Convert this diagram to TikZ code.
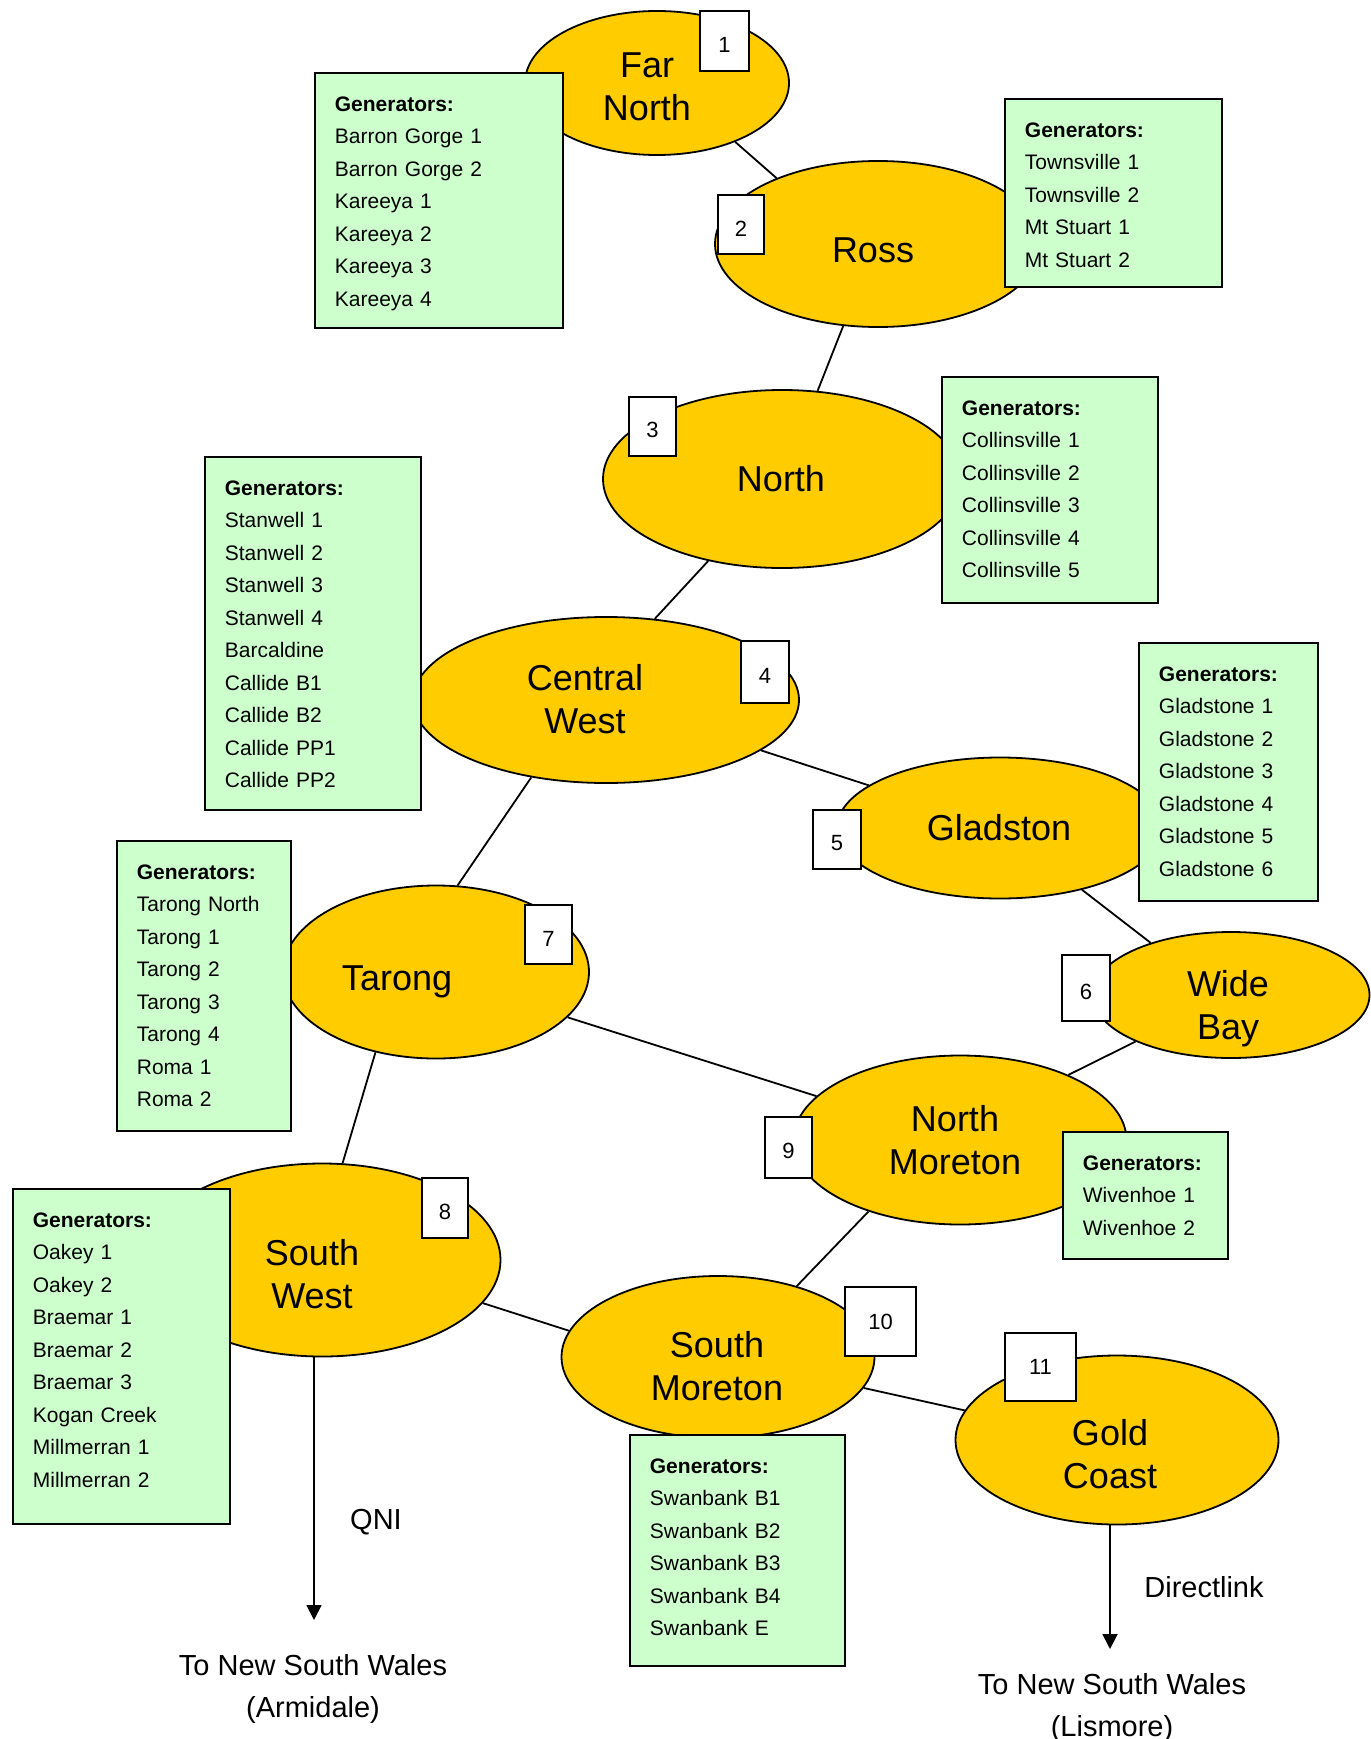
\documentclass[tikz,border=0pt]{standalone}
\usepackage{fontspec}
\setmainfont{Liberation Sans}
\usetikzlibrary{arrows.meta,shapes.geometric}
\definecolor{gold}{HTML}{FFCC00}
\definecolor{mint}{HTML}{CCFFCC}

\begin{document}
\begin{tikzpicture}[x=1pt,y=-1pt,
        region/.style={ellipse,draw,fill=gold,line width=1.8pt,inner sep=0pt},
        regname/.style={align=center,font=\fontsize{36}{43}\selectfont},
        genbox/.style 2 args={draw,fill=mint,line width=1.8pt,anchor=north west,align=left,
            inner xsep=20pt,inner ysep=0pt,font=\fontsize{21}{32.5}\selectfont,
            text width=#1,text height=38.5pt,text depth=#2},
        numbox/.style={draw,fill=white,line width=1.8pt,inner sep=0pt,font=\fontsize{22}{26}\selectfont},
        lownum/.style={text height=23pt},
        link/.style={line width=1.8pt},
        tip/.style={-{Triangle[length=15pt,width=15pt]}},
        note/.style={align=center,font=\fontsize{29}{42}\selectfont}]
        \useasboundingbox (0,0) rectangle (1370,1739);

        % regions
        \node[region,minimum width=264pt,minimum height=144pt] (farnorth) at (657,83) {};
        \node[region,minimum width=326pt,minimum height=166pt] (ross) at (878,244) {};
        \node[region,minimum width=358pt,minimum height=178pt] (north) at (782,479) {};
        \node[region,minimum width=386pt,minimum height=166pt] (centralwest) at (606,700) {};
        \node[region,minimum width=326pt,minimum height=141pt] (gladston) at (1000,828) {};
        \node[region,minimum width=277pt,minimum height=126pt] (widebay) at (1231,995) {};
        \node[region,minimum width=306pt,minimum height=173pt] (tarong) at (436,972) {};
        \node[region,minimum width=333pt,minimum height=169pt] (northmoreton) at (960,1140) {};
        \node[region,minimum width=357pt,minimum height=193pt] (southwest) at (322,1260) {};
        \node[region,minimum width=313pt,minimum height=162pt] (southmoreton) at (718,1357) {};
        \node[region,minimum width=323pt,minimum height=169pt] (goldcoast) at (1117,1440) {};

        \node[regname] (farnorth-l) at (647,87) {Far\\North};
        \node[regname] (ross-l) at (873,250) {Ross};
        \node[regname] (north-l) at (781,479) {North};
        \node[regname] (centralwest-l) at (585,699) {Central\\West};
        \node[regname] (gladston-l) at (999,828) {Gladston};
        \node[regname] (widebay-l) at (1228,1008.5) {Wide\\Bay};
        \node[regname] (tarong-l) at (397,981.5) {Tarong};
        \node[regname] (northmoreton-l) at (955,1140) {North\\Moreton};
        \node[regname] (southwest-l) at (312,1274) {South\\West};
        \node[regname] (southmoreton-l) at (717,1366) {South\\Moreton};
        \node[regname] (goldcoast-l) at (1110,1454) {Gold\\Coast};

        % lines
        \draw[link] (farnorth.-37) -- (ross.147);
        \draw[link] (ross.-113) -- (north.68);
        \draw[link] (north.-132) -- (centralwest.59);
        \draw[link] (centralwest.-18) -- (gladston.162);
        \draw[link] (gladston.-37) -- (widebay.147);
        \draw[link] (widebay.-154) -- (northmoreton.31);
        \draw[link] (centralwest.-134) -- (tarong.76);
        \draw[link] (tarong.-19) -- (northmoreton.163);
        \draw[link] (tarong.-127) -- (southwest.78);
        \draw[link] (northmoreton.-142) -- (southmoreton.42);
        \draw[link] (southwest.-15) -- (southmoreton.170);
        \draw[link] (southmoreton.-12) -- (goldcoast.169);

        \coordinate (qnitip) at (314,1620);
        \coordinate (dltip) at (1110,1649);
        \draw[link,tip] (southwest.south -| qnitip) -- (qnitip);
        \draw[link,tip] (goldcoast.south -| dltip) -- (dltip);
        \node[note] (qni) at (376,1522) {QNI};
        \node[note] (directlink) at (1204,1587) {Directlink};
        \node[note] (armidale) at (313,1689) {To New South Wales\\(Armidale)};
        \node[note] (lismore) at (1112,1708) {To New South Wales\\(Lismore)};

        % generators
        \node[genbox={208pt}{216.5pt}] (gen-farnorth) at (314,72)
            {\textbf{Generators:}\\Barron Gorge 1\\Barron Gorge 2\\Kareeya 1\\Kareeya 2\\Kareeya 3\\Kareeya 4};
        \node[genbox={177pt}{149.5pt}] (gen-ross) at (1004,98)
            {\textbf{Generators:}\\Townsville 1\\Townsville 2\\Mt Stuart 1\\Mt Stuart 2};
        \node[genbox={176pt}{187.5pt}] (gen-north) at (941,376)
            {\textbf{Generators:}\\Collinsville 1\\Collinsville 2\\Collinsville 3\\Collinsville 4\\Collinsville 5};
        \node[genbox={176pt}{314.5pt}] (gen-centralwest) at (204,456)
            {\textbf{Generators:}\\Stanwell 1\\Stanwell 2\\Stanwell 3\\Stanwell 4\\Barcaldine\\Callide B1\\Callide B2\\Callide PP1\\Callide PP2};
        \node[genbox={139pt}{219.5pt}] (gen-gladston) at (1138,642)
            {\textbf{Generators:}\\Gladstone 1\\Gladstone 2\\Gladstone 3\\Gladstone 4\\Gladstone 5\\Gladstone 6};
        \node[genbox={125pt}{88.5pt}] (gen-northmoreton) at (1062,1131)
            {\textbf{Generators:}\\Wivenhoe 1\\Wivenhoe 2};
        \node[genbox={134pt}{251.5pt}] (gen-tarong) at (116,840)
            {\textbf{Generators:}\\Tarong North\\Tarong 1\\Tarong 2\\Tarong 3\\Tarong 4\\Roma 1\\Roma 2};
        \node[genbox={177pt}{296.5pt}] (gen-southwest) at (12,1188)
            {\textbf{Generators:}\\Oakey 1\\Oakey 2\\Braemar 1\\Braemar 2\\Braemar 3\\Kogan Creek\\Millmerran 1\\Millmerran 2};
        \node[genbox={175pt}{192.5pt}] (gen-southmoreton) at (629,1434)
            {\textbf{Generators:}\\Swanbank B1\\Swanbank B2\\Swanbank B3\\Swanbank B4\\Swanbank E};

        % numbers
        \node[numbox,lownum,minimum width=49pt,minimum height=60pt] (n1) at (724.5,41) {1};
        \node[numbox,lownum,minimum width=46pt,minimum height=59pt] (n2) at (741,224.5) {2};
        \node[numbox,lownum,minimum width=47pt,minimum height=59pt] (n3) at (652.5,426.5) {3};
        \node[numbox,lownum,minimum width=48pt,minimum height=62pt] (n4) at (765,672) {4};
        \node[numbox,lownum,minimum width=48pt,minimum height=59pt] (n5) at (837,839.5) {5};
        \node[numbox,lownum,minimum width=48pt,minimum height=66pt] (n6) at (1086,988) {6};
        \node[numbox,lownum,minimum width=47pt,minimum height=59pt] (n7) at (548.5,934.5) {7};
        \node[numbox,lownum,minimum width=46pt,minimum height=60pt] (n8) at (445,1208) {8};
        \node[numbox,lownum,minimum width=47pt,minimum height=61pt] (n9) at (788.5,1147.5) {9};
        \node[numbox,minimum width=71pt,minimum height=69pt] (n10) at (880.5,1321.5) {10};
        \node[numbox,minimum width=71pt,minimum height=68pt] (n11) at (1040.5,1367) {11};
\end{tikzpicture}
\end{document}
